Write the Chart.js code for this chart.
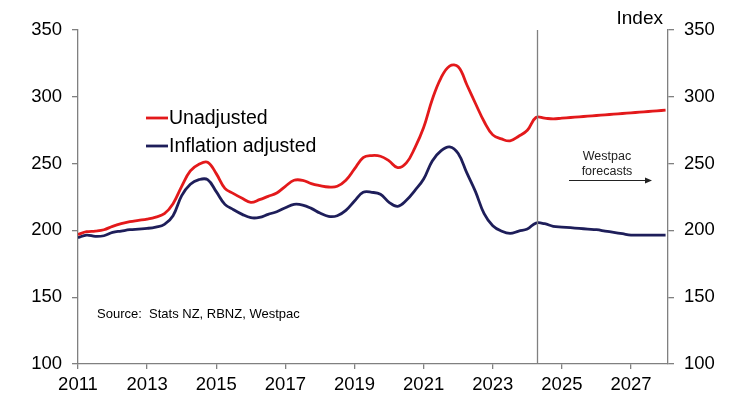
<!DOCTYPE html>
<html>
<head>
<meta charset="utf-8">
<script src="https://cdn.jsdelivr.net/npm/chart.js@4/dist/chart.umd.min.js"></script>
<style>
  html, body { margin: 0; padding: 0; background: #fff; }
  #wrap { width: 734px; height: 394px; }
</style>
</head>
<body>
<div id="wrap"><canvas id="houseChart" width="734" height="394"></canvas></div>
<script>
// quarterly dates as decimal years
const quarters = [
  2011.00, 2011.25, 2011.50, 2011.75, 2012.00, 2012.25, 2012.50, 2012.75,
  2013.00, 2013.25, 2013.50, 2013.75, 2014.00, 2014.25, 2014.50, 2014.75,
  2015.00, 2015.25, 2015.50, 2015.75, 2016.00, 2016.25, 2016.50, 2016.75,
  2017.00, 2017.25, 2017.50, 2017.75, 2018.00, 2018.25, 2018.50, 2018.75,
  2019.00, 2019.25, 2019.50, 2019.75, 2020.00, 2020.25, 2020.50, 2020.75,
  2021.00, 2021.25, 2021.50, 2021.75, 2022.00, 2022.25, 2022.50, 2022.75,
  2023.00, 2023.25, 2023.50, 2023.75, 2024.00, 2024.25, 2024.50, 2024.75,
  2025.00, 2025.25, 2025.50, 2025.75, 2026.00, 2026.25, 2026.50, 2026.75,
  2027.00, 2027.25, 2027.50, 2027.75, 2028.00
];

const unadjusted = [
  197, 199, 199.5, 200.5, 203, 205, 206.5, 207.5,
  208.5, 210, 212.5, 220, 233, 244.5, 249.5, 251,
  242.5, 231.5, 227.5, 224, 221, 223, 225.5, 228,
  233, 237.5, 237.5, 235, 233.5, 232.5, 233, 237.5,
  246, 254.5, 256, 255.5, 252, 247, 250.5, 262,
  277, 298, 314, 323, 322.5, 309, 295, 281.5,
  271.5, 268.5, 267, 270.5, 275, 284.5, 284, 283.5,
  284, 284.5, 285, 285.5, 286, 286.5, 287, 287.5,
  288, 288.5, 289, 289.5, 290
];

const inflationAdjusted = [
  194.5, 196.5, 195.5, 196, 198.5, 199.5, 200.5, 201,
  201.5, 202.5, 204.5, 211, 226, 234.5, 238, 238,
  229, 219.5, 215.5, 212, 209.5, 209.7, 212, 214,
  217, 219.5, 219, 216.5, 213, 210.5, 211, 215,
  222, 228.5, 228.5, 227, 221, 218, 222.5, 230,
  238.5, 252, 259.5, 262.5, 257.5, 243, 229, 212.5,
  203.5, 199.5, 197.7, 199.5, 201, 205.5, 205, 203,
  202.5, 202, 201.5, 201, 200.5, 199.5, 198.5, 197.5,
  196.5, 196.5, 196.5, 196.5, 196.5
];

const xTickYears = [2011, 2013, 2015, 2017, 2019, 2021, 2023, 2025, 2027];
const yTicks = [100, 150, 200, 250, 300, 350];
const forecastStart = 2024.28;

const RED = '#e3191b';
const NAVY = '#1e1e5a';
const AXIS = '#808080';
const FONT = "'Liberation Sans', Arial, sans-serif";

const toPoints = (vals) => vals.map((v, i) => ({ x: quarters[i], y: v }));

// forecast divider, legend and notes
const overlay = {
  id: 'overlay',
  afterDatasetsDraw(chart) {
    const { ctx, chartArea, scales } = chart;
    ctx.save();

    const fx = Math.round(scales.x.getPixelForValue(forecastStart)) + 0.5;
    ctx.strokeStyle = AXIS;
    ctx.lineWidth = 1.3;
    ctx.beginPath();
    ctx.moveTo(fx, chartArea.top);
    ctx.lineTo(fx, chartArea.bottom);
    ctx.stroke();

    // legend
    const items = [['Unadjusted', RED, 118], ['Inflation adjusted', NAVY, 146]];
    ctx.font = '19.5px ' + FONT;
    ctx.textBaseline = 'middle';
    ctx.textAlign = 'left';
    items.forEach(([label, color, y]) => {
      ctx.strokeStyle = color;
      ctx.lineWidth = 2.8;
      ctx.beginPath();
      ctx.moveTo(146, y);
      ctx.lineTo(168, y);
      ctx.stroke();
      ctx.fillStyle = '#000';
      ctx.fillText(label, 169, y + 1);
    });

    ctx.font = '13px ' + FONT;
    ctx.fillText('Source:  Stats NZ, RBNZ, Westpac', 97, 314);

    ctx.textAlign = 'center';
    ctx.font = '12.5px ' + FONT;
    ctx.fillStyle = '#222';
    ctx.fillText('Westpac', 607, 157);
    ctx.fillText('forecasts', 607, 172);

    ctx.strokeStyle = '#222';
    ctx.lineWidth = 1;
    ctx.beginPath();
    ctx.moveTo(569, 180.5);
    ctx.lineTo(648, 180.5);
    ctx.stroke();
    ctx.fillStyle = '#222';
    ctx.beginPath();
    ctx.moveTo(652, 180.5);
    ctx.lineTo(645, 177.5);
    ctx.lineTo(645, 183.5);
    ctx.closePath();
    ctx.fill();

    ctx.textAlign = 'right';
    ctx.textBaseline = 'alphabetic';
    ctx.font = '19px ' + FONT;
    ctx.fillStyle = '#000';
    ctx.fillText('Index', 663, 24);

    ctx.restore();
  }
};

const yAxis = (position, width) => ({
  type: 'linear',
  position,
  min: 100,
  max: 350,
  afterBuildTicks: (s) => { s.ticks = yTicks.map(v => ({ value: v })); },
  afterFit: (s) => { s.width = width; },
  border: { color: AXIS, width: 1.3 },
  grid: { drawOnChartArea: false, color: AXIS, tickLength: 6, lineWidth: 1.3 },
  ticks: { color: '#000', padding: 10, font: { size: 18.5, family: FONT } }
});

new Chart(document.getElementById('houseChart'), {
  type: 'line',
  data: {
    datasets: [
      {
        label: 'Unadjusted',
        data: toPoints(unadjusted),
        borderColor: RED,
        borderWidth: 2.8,
        pointRadius: 0,
        tension: 0.4,
        fill: false
      },
      {
        label: 'Inflation adjusted',
        data: toPoints(inflationAdjusted),
        borderColor: NAVY,
        borderWidth: 2.8,
        pointRadius: 0,
        tension: 0.4,
        fill: false
      }
    ]
  },
  options: {
    responsive: false,
    animation: false,
    layout: { padding: { top: 30, left: 0, right: 0, bottom: 0 } },
    plugins: { legend: { display: false }, tooltip: { enabled: false } },
    scales: {
      x: {
        type: 'linear',
        min: 2011,
        max: 2028.07,
        afterBuildTicks: (s) => { s.ticks = xTickYears.map(v => ({ value: v })); },
        afterFit: (s) => { s.height = 30; },
        border: { color: AXIS, width: 1.3 },
        grid: { drawOnChartArea: false, color: AXIS, tickLength: 5, lineWidth: 1.3 },
        ticks: {
          color: '#000',
          padding: 5,
          maxRotation: 0,
          font: { size: 18.5, family: FONT },
          callback: (v) => String(v)
        }
      },
      y: yAxis('left', 78),
      y2: yAxis('right', 66)
    }
  },
  plugins: [overlay]
});
</script>
</body>
</html>
